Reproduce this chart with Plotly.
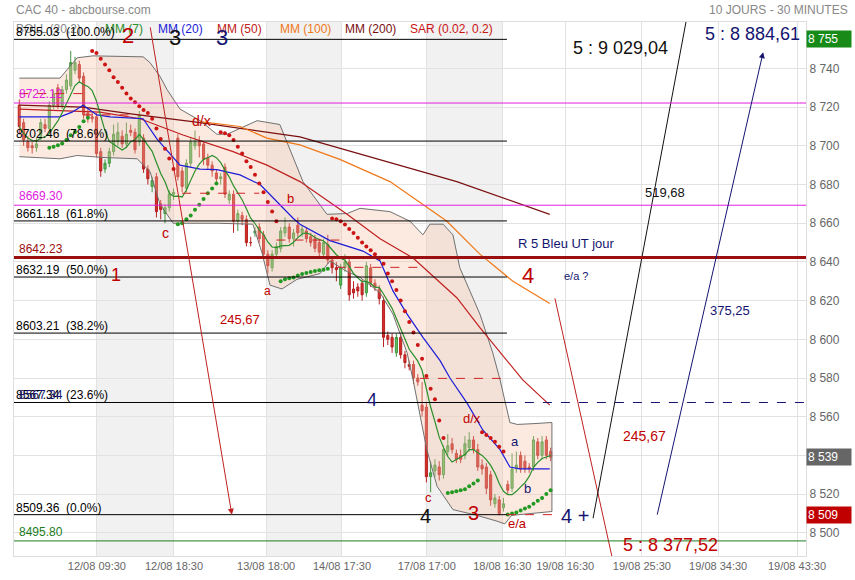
import pandas as pd
import plotly.graph_objects as go

# ---- 30 min candles (bar index 0..124) ----
opens = [8721, 8712, 8702, 8700, 8699, 8705, 8711, 8709, 8721, 8730, 8721, 8729, 8731, 8739, 8742, 8736, 8717, 8715,
         8715, 8697, 8688, 8691, 8697, 8702, 8705, 8701, 8708, 8707, 8702, 8704, 8688, 8679, 8684, 8670, 8665, 8668,
         8675, 8704, 8687, 8678, 8691, 8700, 8702, 8701, 8694, 8690, 8686, 8683, 8689, 8672, 8675, 8661, 8664, 8662,
         8650, 8655, 8658, 8654, 8644, 8637, 8644, 8647, 8655, 8658, 8652, 8659, 8655, 8656, 8653, 8652, 8650, 8644,
         8649, 8641, 8637, 8628, 8637, 8640, 8626, 8627, 8629, 8624, 8637, 8629, 8626, 8620, 8602, 8601, 8593, 8601,
         8592, 8587, 8587, 8580, 8566, 8565, 8529, 8532, 8534, 8530, 8542, 8546, 8541, 8540, 8540, 8544, 8548, 8543,
         8535, 8534, 8530, 8515, 8517, 8513, 8525, 8523, 8533, 8540, 8537, 8534, 8534, 8547, 8540, 8548, 8542]
highs = [8724, 8714, 8705, 8702, 8704, 8714, 8714, 8723, 8729, 8732, 8731, 8737, 8749, 8746, 8744, 8738, 8719, 8717,
         8717, 8699, 8693, 8699, 8711, 8712, 8708, 8712, 8711, 8709, 8718, 8706, 8690, 8684, 8686, 8672, 8670, 8677,
         8678, 8706, 8689, 8693, 8704, 8708, 8705, 8702, 8696, 8692, 8688, 8686, 8691, 8677, 8677, 8667, 8666, 8664,
         8653, 8658, 8660, 8656, 8646, 8646, 8650, 8658, 8663, 8660, 8657, 8663, 8659, 8658, 8655, 8654, 8652, 8652,
         8654, 8643, 8640, 8639, 8644, 8642, 8630, 8629, 8631, 8640, 8639, 8631, 8628, 8622, 8604, 8603, 8603, 8603,
         8594, 8589, 8589, 8582, 8578, 8567, 8537, 8538, 8537, 8545, 8551, 8549, 8543, 8543, 8550, 8552, 8550, 8546,
         8538, 8536, 8532, 8520, 8519, 8518, 8527, 8541, 8542, 8542, 8540, 8536, 8550, 8549, 8550, 8550, 8544]
lows = [8706, 8700, 8697, 8696, 8697, 8703, 8707, 8707, 8719, 8719, 8719, 8727, 8729, 8737, 8733, 8714, 8712, 8712,
        8694, 8684, 8686, 8689, 8695, 8700, 8699, 8699, 8705, 8696, 8700, 8686, 8680, 8676, 8663, 8662, 8660, 8666,
        8672, 8682, 8676, 8676, 8689, 8698, 8694, 8690, 8688, 8684, 8681, 8680, 8673, 8670, 8655, 8656, 8659, 8648,
        8648, 8653, 8650, 8642, 8634, 8635, 8642, 8645, 8653, 8650, 8648, 8653, 8653, 8650, 8648, 8645, 8643, 8642,
        8639, 8634, 8630, 8626, 8635, 8620, 8621, 8622, 8620, 8622, 8627, 8625, 8618, 8596, 8597, 8593, 8591, 8590,
        8585, 8584, 8577, 8576, 8560, 8526, 8521, 8529, 8527, 8528, 8540, 8541, 8536, 8536, 8538, 8542, 8541, 8532,
        8530, 8520, 8514, 8513, 8509, 8511, 8520, 8521, 8531, 8531, 8531, 8531, 8532, 8538, 8538, 8538, 8537]
closes = [8710, 8703, 8699, 8699, 8701, 8712, 8709, 8721, 8727, 8721, 8729, 8734, 8743, 8743, 8735, 8716, 8715, 8714,
          8696, 8687, 8691, 8697, 8706, 8707, 8701, 8706, 8707, 8698, 8716, 8688, 8683, 8682, 8666, 8667, 8668, 8675,
          8676, 8684, 8679, 8691, 8702, 8702, 8700, 8693, 8690, 8687, 8683, 8684, 8675, 8675, 8661, 8665, 8662, 8650,
          8650, 8656, 8652, 8644, 8638, 8644, 8648, 8656, 8658, 8652, 8655, 8655, 8657, 8652, 8650, 8647, 8645, 8650,
          8641, 8637, 8636, 8637, 8640, 8623, 8624, 8625, 8623, 8638, 8629, 8627, 8621, 8601, 8600, 8596, 8601, 8592,
          8588, 8586, 8580, 8578, 8563, 8529, 8531, 8535, 8530, 8543, 8545, 8543, 8538, 8538, 8546, 8548, 8543, 8534,
          8533, 8523, 8517, 8518, 8510, 8515, 8522, 8533, 8535, 8533, 8533, 8533, 8548, 8540, 8547, 8540, 8539]

# ---- parabolic SAR (0.02, 0.2), one dot per bar ----
sar = [None, None, None, None, None, None, None,
       8699, 8699.5, 8700.3, 8701.2, 8703, 8705.5, 8707.2, 8709.7, 8712.7, 8714.5,
       8749, 8748, 8745, 8742, 8739, 8735.5, 8733, 8730, 8727, 8724.5, 8722.5, 8720.5, 8718.5, 8717, 8714, 8709,
       8703.5, 8698.5, 8693.5, 8688,
       8659.5, 8660, 8662, 8664, 8667, 8669.5, 8672.5, 8675.5, 8678, 8680.5,
       8707, 8706.5, 8705.5, 8703, 8699.5, 8696, 8692, 8689, 8685, 8680.5, 8676, 8671, 8666, 8661,
       8630, 8631, 8631.5, 8632, 8633, 8633.7, 8634.3, 8634.8, 8635.3, 8635.7, 8636, 8636.5,
       8662.5, 8662, 8661, 8659.3, 8657, 8655, 8652.5, 8650, 8648, 8646, 8644, 8642, 8639, 8634, 8630, 8625.5,
       8620, 8614.5, 8609, 8603.5, 8597, 8590, 8581, 8574.5, 8569, 8558, 8549,
       8520.5, 8521, 8521.5, 8522, 8522.5, 8524, 8525.5, 8527,
       8552, 8550.5, 8549, 8547, 8544.5, 8542,
       8509.5, 8510, 8510.5, 8511.5, 8512.5, 8513.5, 8515, 8516.5, 8518, 8520, 8522]

# ---- indicator lines (bar index, value) ----
bb_up_x = [0, 9.5, 13.5, 17.2, 28.9, 30.5, 32.8, 34.5, 37.5, 42.2, 46.1, 48.5, 55.5, 60.8, 66.2, 71.8, 76.5, 79.5,
           86.5, 91.2, 94.2, 95.8, 98.9, 101.2, 102.8, 107.5, 110.5, 112.2, 114.5, 116.2, 119.9, 124.3]
bb_up = [8735, 8735, 8745.5, 8746.5, 8746, 8743, 8736, 8729, 8719, 8713, 8706, 8706, 8713, 8711, 8681.5, 8664.6,
         8665, 8667.7, 8666, 8661, 8654, 8659.5, 8659.5, 8654, 8637, 8613, 8593, 8579, 8557, 8556, 8556.4, 8557]
bb_lo_x = [0, 9.5, 13.5, 19.3, 27.5, 30.5, 32.8, 35.9, 39.1, 46.1, 54.5, 56.6, 58.5, 61.3, 64.8, 70.2, 72.5, 76.5,
           79.5, 84.2, 87.2, 90.5, 91.9, 95.1, 97.5, 101.2, 106.8, 111.5, 113.3, 114.9, 124.3]
bb_lo = [8694.4, 8693.3, 8695, 8694, 8693.3, 8686.7, 8670, 8660, 8660, 8660, 8659.5, 8645, 8628, 8626, 8631, 8634,
         8640.5, 8635, 8632, 8624, 8613, 8593, 8579, 8543, 8524, 8512, 8509, 8506, 8504.6, 8509, 8511]
mm20_x = [0, 9.5, 12.3, 14.9, 18.1, 21.2, 28.9, 32.1, 37.5, 42.2, 46.1, 51.5, 56.2, 60.1, 63.9, 65.5, 72.5, 80.2,
          84.2, 87.2, 90.5, 94.2, 98.2, 100.5, 104.5, 108.2, 112.2, 114.5, 116.8, 123.8]
mm20 = [8715, 8715, 8717.4, 8721, 8716, 8715, 8714, 8703.6, 8690, 8688, 8687.7, 8685, 8680, 8671, 8662.6, 8659.5,
        8651, 8645.6, 8640.5, 8625, 8613, 8601, 8589, 8580, 8567, 8553, 8543, 8534, 8533, 8533]
mm50_x = [0, 18.8, 28.2, 38.2, 49.9, 57.8, 65.5, 76.5, 84.2, 91.9, 102.1, 107.5, 117.5, 123.8]
mm50 = [8719, 8717.4, 8714, 8705.6, 8697, 8690, 8681.5, 8664.6, 8652, 8642, 8621.5, 8606, 8579, 8566]
mm100_x = [42.2, 51.5, 57.8, 65.5, 74.8, 86.5, 99.8, 107.5, 115.2, 123.8]
mm100 = [8712.5, 8710, 8704, 8700.5, 8693, 8681.5, 8661, 8644, 8630, 8618.5]
mm200_x = [0, 14.9, 26.5, 42.2, 65.5, 88.8, 102.1, 123.8]
mm200 = [8721, 8720, 8716.4, 8712, 8704.6, 8690, 8681.5, 8664.6]

# ---- drawn levels ----
fib_levels = [8755.03, 8702.46, 8661.18, 8632.19, 8603.21, 8567.34, 8509.36]
fib_pct = ["100.0%", "78.6%", "61.8%", "50.0%", "38.2%", "23.6%", "0.0%"]
fib_end = 113.8
pink_levels = [8722.12, 8669.30]
res_level = 8642.23
sup_level = 8495.80
dash_levels = [8727.0, 8716.0, 8675.5, 8651.3, 8637.2, 8579.8, 8509.36]
dash_from = [0, 15, 38, 60, 74, 93.5, 113.8]
dash_to = [15, 28, 56, 75, 94.7, 113.8, 124.3]

# projections (bar index, price)
proj_red1_x, proj_red1_y = [30.5, 49.6], [8762.0, 8509.36]
proj_red2_x, proj_red2_y = [125.0, 149.3], [8621.2, 8377.52]
proj_black_x, proj_black_y = [133.9, 178.0], [8507.5, 9029.04]
proj_navy_x, proj_navy_y = [148.8, 173.6], [8508.6, 8748.4]

price_tags = [8755, 8539, 8509]

day_band_from = [18.1, 57.6, 95.1]
day_band_to = [36.1, 75.3, 112.7]

x_tick_pos = [18.1, 36.1, 57.6, 75.3, 95.1, 112.7, 127.4, 145.3, 163.1, 181.5]
x_tick_text = ["12/08 09:30", "12/08 18:30", "13/08 18:00", "14/08 17:30", "17/08 17:00", "18/08 16:30",
               "19/08 16:30", "19/08 25:30", "19/08 34:30", "19/08 43:30"]
y_tick_vals = [8500, 8520, 8540, 8560, 8580, 8600, 8620, 8640, 8660, 8680, 8700, 8720, 8740]

FONT = "Liberation Sans, Arial, sans-serif"
X0, X1 = -1.24, 183.6
RED = "#c00000"
NAVY = "#141470"

bars = list(range(len(closes)))
mm7 = pd.Series(closes).rolling(7, min_periods=1).mean()

fig = go.Figure()

# bollinger band
fig.add_trace(go.Scatter(x=bb_up_x + bb_lo_x[::-1], y=bb_up + bb_lo[::-1], fill="toself",
                         fillcolor="rgba(246,196,166,0.35)", line=dict(color="#707070", width=1),
                         mode="lines", hoverinfo="skip"))

fig.add_trace(go.Scatter(x=mm200_x, y=mm200, mode="lines", line=dict(color="#7a1010", width=1.2)))
fig.add_trace(go.Scatter(x=mm100_x, y=mm100, mode="lines", line=dict(color="#f07818", width=1.2)))
fig.add_trace(go.Scatter(x=mm50_x, y=mm50, mode="lines", line=dict(color="#c02020", width=1.2)))
fig.add_trace(go.Scatter(x=mm20_x, y=mm20, mode="lines", line=dict(color="#1c1cd8", width=1.2)))

fig.add_trace(go.Candlestick(x=bars, open=opens, high=highs, low=lows, close=closes,
                             increasing=dict(line=dict(color="#3f953f", width=1), fillcolor="#62c062"),
                             decreasing=dict(line=dict(color="#b82020", width=1), fillcolor="#d23028"),
                             whiskerwidth=0, showlegend=False))

fig.add_trace(go.Scatter(x=bars, y=mm7, mode="lines", line=dict(color="#2a8f2a", width=1.2)))

sar_col = ["#229922" if (s is not None and s < (h + l) / 2) else "#cc1414" for s, h, l in zip(sar, highs, lows)]
fig.add_trace(go.Scatter(x=bars, y=sar, mode="markers", marker=dict(color=sar_col, size=4)))

# projection lines
fig.add_trace(go.Scatter(x=proj_red2_x, y=proj_red2_y, mode="lines", line=dict(color="#c02020", width=1)))
fig.add_trace(go.Scatter(x=proj_black_x, y=proj_black_y, mode="lines", line=dict(color="#111111", width=1)))

shapes = []
for a, b in zip(day_band_from, day_band_to):
    shapes.append(dict(type="rect", xref="x", yref="paper", x0=a, x1=b, y0=0, y1=1,
                       fillcolor="#f1f1f1", line=dict(width=0), layer="below"))
for lv in fib_levels:
    shapes.append(dict(type="line", xref="x", yref="y", x0=X0, x1=fib_end, y0=lv, y1=lv,
                       line=dict(color="#000000", width=1)))
shapes.append(dict(type="line", xref="x", yref="y", x0=fib_end, x1=X1, y0=fib_levels[5], y1=fib_levels[5],
                   line=dict(color=NAVY, width=1, dash="dash")))
for lv in pink_levels:
    shapes.append(dict(type="line", xref="paper", yref="y", x0=0, x1=1, y0=lv, y1=lv,
                       line=dict(color="#e020e0", width=1)))
shapes.append(dict(type="line", xref="paper", yref="y", x0=0, x1=1, y0=res_level, y1=res_level,
                   line=dict(color="#9a0f0f", width=3)))
shapes.append(dict(type="line", xref="paper", yref="y", x0=0, x1=1, y0=sup_level, y1=sup_level,
                   line=dict(color="#1e7d1e", width=1)))
for lv, a, b in zip(dash_levels, dash_from, dash_to):
    shapes.append(dict(type="line", xref="x", yref="y", x0=a, x1=b, y0=lv, y1=lv,
                       line=dict(color="#d02020", width=1, dash="dash")))

ann = []


def txt(x, y, t, color, size, xanchor="center", yanchor="middle", xref="x", yref="y", **kw):
    ann.append(dict(x=x, y=y, xref=xref, yref=yref, text=t, showarrow=False, xanchor=xanchor,
                    yanchor=yanchor, font=dict(color=color, size=size, family=FONT), **kw))


# arrows
ann.append(dict(x=proj_red1_x[1], y=proj_red1_y[1], ax=proj_red1_x[0], ay=proj_red1_y[0], xref="x", yref="y",
                axref="x", ayref="y", showarrow=True, arrowhead=2, arrowsize=1.2, arrowwidth=1,
                arrowcolor="#c02020", text=""))
ann.append(dict(x=proj_navy_x[1], y=proj_navy_y[1], ax=proj_navy_x[0], ay=proj_navy_y[0], xref="x", yref="y",
                axref="x", ayref="y", showarrow=True, arrowhead=2, arrowsize=1.2, arrowwidth=1,
                arrowcolor=NAVY, text=""))

# header
txt(0, 1.0, "CAC 40 - abcbourse.com", "#888888", 12, "left", "bottom", "paper", "paper", yshift=3)
txt(1.055, 1.0, "10 JOURS - 30 MINUTES", "#888888", 12, "right", "bottom", "paper", "paper", yshift=3)

# indicator legend
legend_items = [("BOLL (20,2)", "#8a8a8a", 0.0), ("MM (7)", "#2a8f2a", 0.112), ("MM (20)", "#1c1cd8", 0.179),
                ("MM (50)", "#c02020", 0.254), ("MM (100)", "#f07818", 0.333), ("MM (200)", "#7a1010", 0.415),
                ("SAR (0.02, 0.2)", "#cc1414", 0.497)]
for t, c, xp in legend_items:
    txt(xp, 0.987, t, c, 12, "left", "middle", "paper", "paper")

# level labels
for lv, p in zip(fib_levels, fib_pct):
    txt(X0, lv, f"{lv:.2f}  ({p})", "#000000", 12, "left", "bottom", yshift=-2)
txt(X0, fib_levels[5], f"{fib_levels[5]:.2f}", NAVY, 12, "left", "bottom", yshift=-2, xshift=3)
for lv in pink_levels:
    txt(X0, lv, f"{lv:.2f}", "#e020e0", 12, "left", "bottom", xshift=3)
txt(X0, res_level, f"{res_level:.2f}", "#9a0f0f", 12, "left", "bottom", xshift=3)
txt(X0, sup_level, f"{sup_level:.2f}", "#1e7d1e", 12, "left", "bottom", xshift=3)

# wave counts
txt(25.4, 8757, "2", RED, 22)
txt(36.4, 8756, "3", "#111111", 22)
txt(47.3, 8756, "3", NAVY, 22)
txt(22.6, 8633, "1", RED, 18)
txt(118.7, 8633, "4", RED, 22)
txt(82.3, 8568.5, "4", NAVY, 18)
txt(94.9, 8508.6, "4", "#111111", 20)
txt(105.9, 8510, "3", RED, 20)
txt(129.7, 8508.6, "4 +", NAVY, 20)
txt(34.0, 8655, "c", RED, 14)
txt(95.4, 8518, "c", RED, 13)
txt(42.6, 8712.7, "d/x", RED, 14)
txt(105.6, 8559, "d/x", RED, 13)
txt(63.4, 8673, "b", RED, 13)
txt(58.0, 8625, "a", RED, 12)
txt(115.7, 8547.4, "a", NAVY, 13)
txt(118.5, 8523, "b", NAVY, 13)
txt(116.2, 8505, "e/a", RED, 13)
txt(129.9, 8632.6, "e/a ?", NAVY, 11)
txt(127.6, 8649.7, "R 5 Bleu UT jour", NAVY, 13)
txt(140.2, 8750.5, "5 : 9 029,04", "#111111", 18)
txt(171.2, 8758, "5 : 8 884,61", NAVY, 18)
txt(151.9, 8493.6, "5 : 8 377,52", RED, 18)
txt(150.7, 8676, "519,68", "#111111", 13)
txt(165.9, 8615, "375,25", NAVY, 13)
txt(51.5, 8610, "245,67", RED, 13)
txt(146.0, 8550, "245,67", RED, 14)

# price tags on the right axis
for v, c in zip(price_tags, ["#178a17", "#666666", "#c00000"]):
    ann.append(dict(x=1.0, y=v, xref="paper", yref="y", text=f"{v:,}".replace(",", " "), showarrow=False,
                    xanchor="left", yanchor="middle", bgcolor=c, width=42, align="left", borderpad=1,
                    font=dict(color="white", size=12, family=FONT)))

fig.update_layout(
    width=855, height=580, margin=dict(l=14, r=49, t=22, b=24, autoexpand=False),
    paper_bgcolor="white", plot_bgcolor="white", showlegend=False,
    font=dict(family=FONT, size=12, color="#666666"),
    shapes=shapes, annotations=ann,
    xaxis=dict(range=[X0, X1], tickvals=x_tick_pos, ticktext=x_tick_text, showgrid=True, gridcolor="#e2e2e2",
               zeroline=False, showline=True, linecolor="#dddddd", mirror=True, ticks="", tickangle=0,
               automargin=False, rangeslider=dict(visible=False), tickfont=dict(color="#666666", size=11)),
    yaxis=dict(range=[8488, 8764], side="right", tickvals=y_tick_vals, automargin=False,
               ticktext=[f"{v:,}".replace(",", " ") for v in y_tick_vals], showgrid=True, gridcolor="#e2e2e2",
               zeroline=False, showline=True, linecolor="#dddddd", mirror=True, ticks="",
               tickfont=dict(color="#666666", size=12)),
)

# the page body has a default margin; drop it so the figure sits at the window origin
fig.write_html("out.html", config={"displayModeBar": False},
               post_script="document.body.style.margin = '0px';")
